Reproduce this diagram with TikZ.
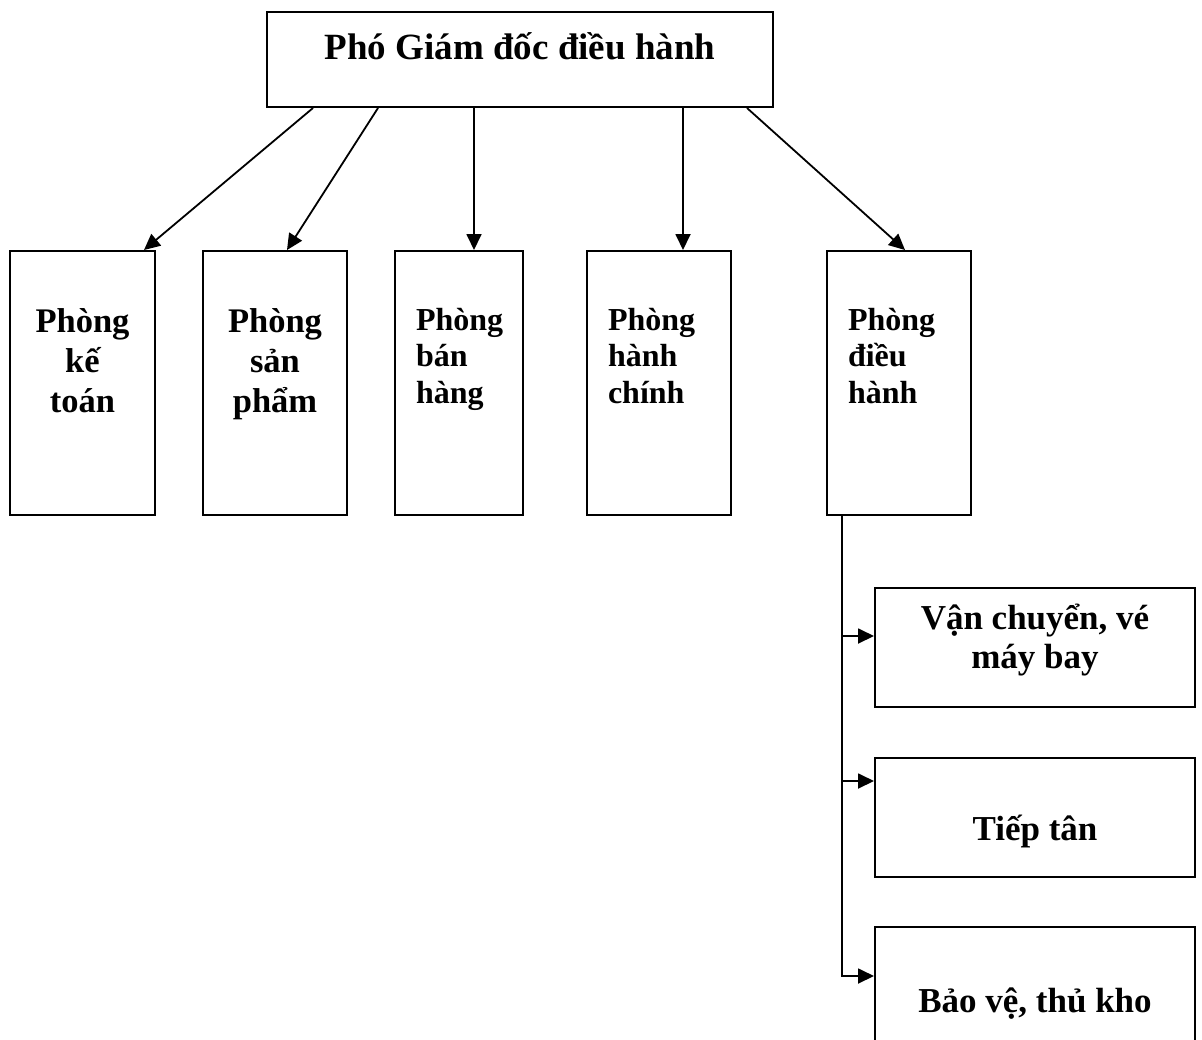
\documentclass[tikz,border=0pt]{standalone}
\usepackage{fontspec}
\setmainfont{Liberation Serif}
\usepackage{tikz}
\usetikzlibrary{arrows.meta,positioning,calc}

\begin{document}
\begin{tikzpicture}[x=1pt,y=-1pt,
 topbox/.style={draw,line width=2pt,minimum width=506pt,minimum height=95pt,inner sep=0pt,font=\fontsize{37}{44}\selectfont\bfseries,text height=26pt,text depth=27pt},
 deptbox/.style={draw,line width=2pt,minimum width=144pt,minimum height=264pt,inner sep=0pt,align=center,font=\fontsize{34.5}{40}\selectfont\bfseries,text height=100pt,text depth=42pt},
 deptleft/.style={draw,line width=2pt,minimum height=264pt,inner xsep=21pt,inner ysep=0pt,text width=102pt,align=left,font=\fontsize{32}{36.5}\selectfont\bfseries,text height=15pt,text depth=121pt},
 subbox/.style={draw,line width=2pt,minimum width=320pt,minimum height=119pt,inner sep=0pt,align=center,font=\fontsize{35}{39}\selectfont\bfseries},
 arr/.style={-{Triangle[length=16pt,width=15pt]},line width=1.8pt}]
\useasboundingbox (0,0) rectangle (1202,1039);
\node[topbox] (pgd) at (520,59.5) {Phó Giám đốc điều hành};
\node[deptbox,minimum width=145pt] (pkt) at (82.5,383) {Phòng\\kế\\toán};
\node[deptbox] (psp) at (275,383) {Phòng\\sản\\phẩm};
\node[deptleft,text width=86pt] (pbh) at (459,383) {Phòng\\bán\\hàng};
\node[deptleft] (phc) at (659,383) {Phòng\\hành\\chính};
\node[deptleft] (pdh) at (899,383) {Phòng\\điều\\hành};
\node[subbox,text height=60pt,text depth=19pt] (vc) at (1035,647.5) {Vận chuyển, vé\\máy bay};
\node[subbox,below=49pt of vc,text height=50pt,text depth=5pt] (tt) {Tiếp tân};
\node[subbox,below=48pt of tt,text height=55pt,text depth=4pt] (bv) {Bảo vệ, thủ kho};
% phó giám đốc -> các phòng
\draw[arr] ([xshift=47pt]pgd.south west) -- ([xshift=135pt]pkt.north west);
\draw[arr] ([xshift=112pt]pgd.south west) -- ([xshift=85pt]psp.north west);
\draw[arr] ([xshift=208pt]pgd.south west) -- ([xshift=80pt]pbh.north west);
\draw[arr] ([xshift=417pt]pgd.south west) -- ([xshift=97pt]phc.north west);
\draw[arr] ([xshift=481pt]pgd.south west) -- ([xshift=79pt]pdh.north west);
% phòng điều hành -> bộ phận
\coordinate (trunk) at ([xshift=16pt]pdh.south west);
\coordinate (vcin) at ([yshift=11.5pt]vc.west);
\coordinate (ttin) at ([yshift=36.5pt]tt.west);
\draw[arr] (trunk) |- ([yshift=10.5pt]bv.west);
\draw[arr] (trunk |- vcin) -- (vcin);
\draw[arr] (trunk |- ttin) -- (ttin);
\end{tikzpicture}
\end{document}
